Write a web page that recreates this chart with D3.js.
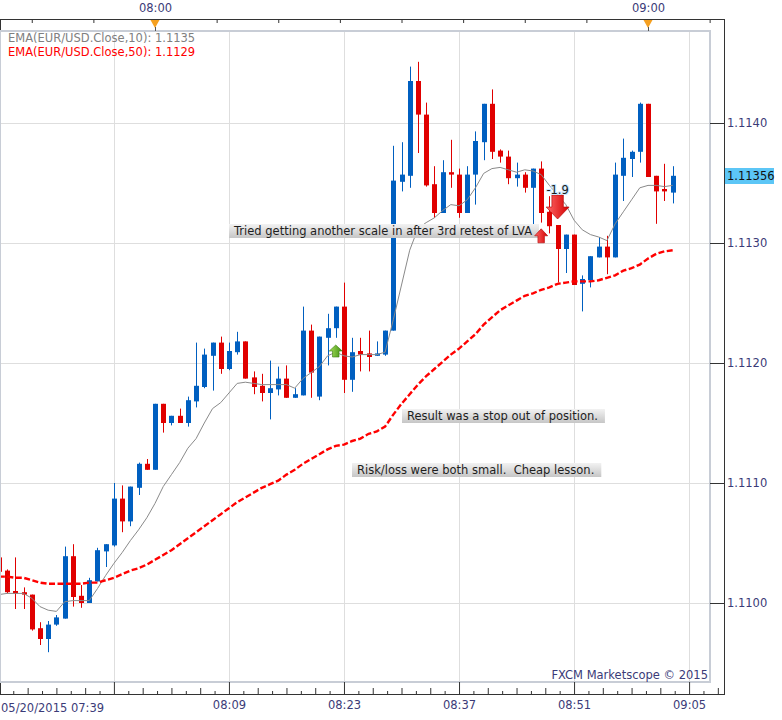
<!DOCTYPE html>
<html>
<head>
<meta charset="utf-8">
<script src="https://cdnjs.cloudflare.com/ajax/libs/d3/7.8.5/d3.min.js"></script>
<style>
    body { margin: 0; background: #fff; }
    svg text { font-family: "DejaVu Sans", sans-serif; font-size: 11.5px; white-space: pre; }
    .axis text { fill: #3b3b78; }
    .axis path, .axis line { stroke: #333; }
</style>
</head>
<body>
<div id="chart"></div>
<script>
// EUR/USD 1 minute candles, 07:41 .. 09:03
var open_ = [
    1.11038, 1.11027, 1.11010, 1.11009, 1.11007, 1.10979, 1.10970, 1.10982, 1.10987, 1.11039,
    1.11006, 1.11000, 1.11018, 1.11043, 1.11048, 1.11087, 1.11068, 1.11096, 1.11116,
    1.11111, 1.11166, 1.11150, 1.11156, 1.11150, 1.11168, 1.11180, 1.11206, 1.11217, 1.11195,
    1.11209, 1.11218, 1.11188, 1.11181, 1.11175, 1.11178, 1.11187, 1.11171, 1.11173, 1.11227,
    1.11172, 1.11221, 1.11229, 1.11247, 1.11186, 1.11210, 1.11208, 1.11206, 1.11207, 1.11227,
    1.11351, 1.11356, 1.11435, 1.11407, 1.11349, 1.11325, 1.11359, 1.11357, 1.11325, 1.11357,
    1.11384, 1.11416, 1.11377, 1.11372, 1.11354, 1.11357, 1.11346, 1.11362, 1.11326, 1.11315,
    1.11295, 1.11307, 1.11266, 1.11269, 1.11288, 1.11297, 1.11288, 1.11356, 1.11370, 1.11376,
    1.11416, 1.11356, 1.11345, 1.11342
];
var high = [
    1.11042, 1.11028, 1.11038, 1.11013, 1.11007, 1.10984, 1.10985, 1.10990, 1.11047, 1.11049,
    1.11015, 1.11021, 1.11046, 1.11049, 1.11100, 1.11098, 1.11097, 1.11117, 1.11120,
    1.11166, 1.11166, 1.11156, 1.11162, 1.11172, 1.11217, 1.11212, 1.11217, 1.11222, 1.11217,
    1.11226, 1.11218, 1.11193, 1.11191, 1.11202, 1.11197, 1.11198, 1.11179, 1.11247, 1.11232,
    1.11222, 1.11241, 1.11247, 1.11267, 1.11221, 1.11221, 1.11227, 1.11218, 1.11227, 1.11381,
    1.11384, 1.11447, 1.11451, 1.11417, 1.11364, 1.11369, 1.11386, 1.11362, 1.11364, 1.11393,
    1.11416, 1.11428, 1.11378, 1.11377, 1.11367, 1.11359, 1.11362, 1.11368, 1.11339, 1.11315,
    1.11307, 1.11307, 1.11273, 1.11289, 1.11305, 1.11306, 1.11367, 1.11387, 1.11377, 1.11417,
    1.11416, 1.11356, 1.11366, 1.11364
];
var low = [
    1.11023, 1.11008, 1.10995, 1.10995, 1.10977, 1.10965, 1.10959, 1.10981, 1.10987, 1.10997,
    1.10996, 1.11000, 1.11018, 1.11030, 1.11047, 1.11059, 1.11064, 1.11090, 1.11111,
    1.11111, 1.11142, 1.11148, 1.11150, 1.11147, 1.11163, 1.11179, 1.11177, 1.11191, 1.11194,
    1.11207, 1.11187, 1.11174, 1.11168, 1.11153, 1.11173, 1.11171, 1.11171, 1.11173, 1.11171,
    1.11169, 1.11198, 1.11221, 1.11175, 1.11176, 1.11193, 1.11193, 1.11206, 1.11206, 1.11227,
    1.11343, 1.11346, 1.11375, 1.11347, 1.11321, 1.11325, 1.11346, 1.11321, 1.11325, 1.11332,
    1.11369, 1.11370, 1.11367, 1.11349, 1.11347, 1.11342, 1.11315, 1.11317, 1.11308, 1.11267,
    1.11275, 1.11265, 1.11243, 1.11263, 1.11288, 1.11274, 1.11288, 1.11335, 1.11355, 1.11367,
    1.11355, 1.11316, 1.11335, 1.11333
];
var close = [
    1.11026, 1.11009, 1.11008, 1.11007, 1.10978, 1.10970, 1.10982, 1.10988, 1.11039, 1.11005,
    1.11000, 1.11019, 1.11044, 1.11049, 1.11087, 1.11068, 1.11097, 1.11116, 1.11111,
    1.11166, 1.11150, 1.11156, 1.11150, 1.11169, 1.11181, 1.11207, 1.11217, 1.11195, 1.11210,
    1.11218, 1.11187, 1.11180, 1.11175, 1.11179, 1.11187, 1.11171, 1.11174, 1.11227, 1.11192,
    1.11222, 1.11229, 1.11247, 1.11186, 1.11209, 1.11207, 1.11205, 1.11208, 1.11227, 1.11352,
    1.11357, 1.11435, 1.11407, 1.11348, 1.11325, 1.11359, 1.11357, 1.11325, 1.11357, 1.11385,
    1.11416, 1.11376, 1.11372, 1.11354, 1.11357, 1.11346, 1.11362, 1.11325, 1.11314, 1.11295,
    1.11307, 1.11265, 1.11270, 1.11289, 1.11297, 1.11288, 1.11357, 1.11371, 1.11376, 1.11416,
    1.11355, 1.11343, 1.11343, 1.11356
];
var ema10 = [
    1.11007, 1.11008, 1.11008, 1.11008, 1.11004, 1.10997, 1.10994, 1.10993, 1.11001, 1.11002,
    1.11002, 1.11002, 1.11012, 1.11023, 1.11033, 1.11042, 1.11052, 1.11061, 1.11071,
    1.11083, 1.11097, 1.11107, 1.11117, 1.11129, 1.11137, 1.11150, 1.11162, 1.11167, 1.11175,
    1.11183, 1.11184, 1.11183, 1.11182, 1.11182, 1.11182, 1.11182, 1.11179, 1.11187, 1.11192,
    1.11197, 1.11206, 1.11209, 1.11206, 1.11205, 1.11207, 1.11207, 1.11207, 1.11209, 1.11236,
    1.11265, 1.11294, 1.11312, 1.11317, 1.11321, 1.11327, 1.11332, 1.11331, 1.11336, 1.11346,
    1.11358, 1.11362, 1.11363, 1.11361, 1.11359, 1.11361, 1.11360, 1.11357, 1.11348, 1.11340,
    1.11332, 1.11319, 1.11311, 1.11307, 1.11305, 1.11302, 1.11316, 1.11326, 1.11336, 1.11346,
    1.11348, 1.11348, 1.11347, 1.11348
];
var ema50 = [
    1.11022, 1.11022, 1.11021, 1.11021, 1.11019, 1.11017, 1.11016, 1.11016, 1.11016, 1.11016,
    1.11016, 1.11017, 1.11017, 1.11019, 1.11021, 1.11024, 1.11027, 1.11029, 1.11032,
    1.11036, 1.11040, 1.11044, 1.11049, 1.11054, 1.11059, 1.11064, 1.11069, 1.11074, 1.11079,
    1.11084, 1.11088, 1.11092, 1.11096, 1.11099, 1.11102, 1.11107, 1.11111, 1.11116, 1.11120,
    1.11124, 1.11128, 1.11131, 1.11132, 1.11135, 1.11137, 1.11141, 1.11143, 1.11147, 1.11157,
    1.11166, 1.11174, 1.11182, 1.11189, 1.11195, 1.11201, 1.11207, 1.11212, 1.11218, 1.11224,
    1.11232, 1.11238, 1.11244, 1.11248, 1.11252, 1.11256, 1.11258, 1.11261, 1.11263, 1.11266,
    1.11267, 1.11268, 1.11268, 1.11268, 1.11269, 1.11271, 1.11273, 1.11277, 1.11279, 1.11282,
    1.11287, 1.11291, 1.11293, 1.11294
];

var priceTicks = [1.1100, 1.1110, 1.1120, 1.1130, 1.1140];
var lastPrice = 1.11356;
var bottomLabels = ["05/20/2015 07:39", "08:09", "08:23", "08:37", "08:51", "09:05"];
var topLabels = ["08:00", "09:00"];
var legendLines = ["EMA(EUR/USD.Close,10): 1.1135", "EMA(EUR/USD.Close,50): 1.1129"];
var legendColors = ["#808080", "#ff0000"];

var notes = [
    {text: "Tried getting another scale in after 3rd retest of LVA", time: "08:09", price: 1.11310},
    {text: "Result was a stop out of position.", time: "08:30", price: 1.11156},
    {text: "Risk/loss were both small.  Cheap lesson.", time: "08:24", price: 1.11111}
];
var arrows = [
    {time: "08:22", price: 1.11210, dir: "up", w: 13, h: 12, color: "green"},
    {time: "08:47", price: 1.11306, dir: "up", w: 13, h: 14, color: "red"},
    {time: "08:49", price: 1.11330, dir: "down", w: 23, h: 24, color: "red"}
];
var tradeLabel = {text: "-1.9", time: "08:49", price: 1.11341};

function at(hm) {
    var p = hm.split(":");
    return new Date(2015, 4, 20, +p[0], +p[1]);
}

var times = d3.timeMinute.range(at("07:41"), at("09:04"));
var candles = times.map(function (t, i) {
    return {t: t, o: open_[i], h: high[i], l: low[i], c: close[i]};
});

var W = 782, H = 720,
    plot = {left: 0, top: 31, right: 710, bottom: 682},
    axisRightX = 724, axisTopY = 19, axisBottomY = 694;

var x = d3.scaleTime().domain([at("08:00"), at("09:00")]).range([155, 648]);
var y = d3.scaleLinear().domain([1.1130, 1.1140]).range([243, 123]);

var svg = d3.select("#chart").append("svg")
    .attr("width", W)
    .attr("height", H);

var defs = svg.append("defs");
defs.append("clipPath").attr("id", "clip")
    .append("rect")
    .attr("x", plot.left + 1).attr("y", plot.top + 1)
    .attr("width", plot.right - plot.left - 2).attr("height", plot.bottom - plot.top - 2);

var g1 = defs.append("linearGradient").attr("id", "noteGrad")
    .attr("x1", 0).attr("y1", 0).attr("x2", 0).attr("y2", 1);
g1.append("stop").attr("offset", "0%").attr("stop-color", "#f2f2f2");
g1.append("stop").attr("offset", "100%").attr("stop-color", "#c6c6c6");

var g2 = defs.append("linearGradient").attr("id", "redGrad")
    .attr("x1", 0).attr("y1", 0).attr("x2", 1).attr("y2", 0);
g2.append("stop").attr("offset", "0%").attr("stop-color", "#ff6a6a");
g2.append("stop").attr("offset", "100%").attr("stop-color", "#d40000");

var g3 = defs.append("linearGradient").attr("id", "greenGrad")
    .attr("x1", 0).attr("y1", 0).attr("x2", 1).attr("y2", 0);
g3.append("stop").attr("offset", "0%").attr("stop-color", "#a8e05a");
g3.append("stop").attr("offset", "100%").attr("stop-color", "#3f8f12");

// outer frame
svg.append("rect")
    .attr("x", 0.5).attr("y", axisTopY + 0.5)
    .attr("width", axisRightX).attr("height", axisBottomY - axisTopY)
    .attr("fill", "none").attr("stroke", "#333");

// plot area
svg.append("rect")
    .attr("x", plot.left).attr("y", plot.top)
    .attr("width", plot.right - plot.left).attr("height", plot.bottom - plot.top)
    .attr("fill", "#fff").attr("stroke", "#c8cdd6").attr("stroke-width", 2);

// grid
var majorTimes = d3.range(6).map(function (i) { return d3.timeMinute.offset(at("07:55"), i * 14); });
var grid = svg.append("g").attr("clip-path", "url(#clip)");
grid.selectAll(".vgrid").data(majorTimes).enter().append("line")
    .attr("x1", function (d) { return Math.round(x(d)) + 0.5; })
    .attr("x2", function (d) { return Math.round(x(d)) + 0.5; })
    .attr("y1", plot.top).attr("y2", plot.bottom)
    .attr("stroke", "#dedede");
grid.selectAll(".hgrid").data(priceTicks).enter().append("line")
    .attr("x1", plot.left).attr("x2", plot.right)
    .attr("y1", function (d) { return Math.round(y(d)) + 0.5; })
    .attr("y2", function (d) { return Math.round(y(d)) + 0.5; })
    .attr("stroke", "#dedede");

// legend
svg.selectAll(".legend").data(legendLines).enter().append("text")
    .attr("x", 8)
    .attr("y", function (d, i) { return 42 + i * 13.5; })
    .attr("fill", function (d, i) { return legendColors[i]; })
    .text(function (d) { return d; });

var chart = svg.append("g").attr("clip-path", "url(#clip)");

// candles
var candle = chart.selectAll(".candle").data(candles).enter().append("g")
    .attr("class", "candle")
    .attr("fill", function (d) { return d.c >= d.o ? "#005fc0" : "#e00000"; });
candle.append("rect")
    .attr("x", function (d) { return Math.round(x(d.t)); })
    .attr("width", 1)
    .attr("y", function (d) { return y(d.h); })
    .attr("height", function (d) { return y(d.l) - y(d.h); });
candle.append("rect")
    .attr("x", function (d) { return Math.round(x(d.t)) - 2; })
    .attr("width", 5)
    .attr("y", function (d) { return y(Math.max(d.o, d.c)); })
    .attr("height", function (d) { return Math.max(2, Math.abs(y(d.o) - y(d.c))); });

// EMA lines
var line = d3.line()
    .x(function (d, i) { return x(times[i]); })
    .y(function (d) { return y(d); });

chart.append("path")
    .attr("d", line(ema10))
    .attr("fill", "none")
    .attr("stroke", "#8a8a8a")
    .attr("stroke-width", 1);

chart.append("path")
    .attr("d", line(ema50))
    .attr("fill", "none")
    .attr("stroke", "#ff0000")
    .attr("stroke-width", 2.4)
    .attr("stroke-dasharray", "6,2.5");

// notes
notes.forEach(function (n) {
    var gx = Math.round(x(at(n.time))), gy = Math.round(y(n.price));
    var ng = svg.append("g").attr("transform", "translate(" + gx + "," + gy + ")");
    var bg = ng.append("rect").attr("y", -7).attr("height", 14).attr("fill", "url(#noteGrad)");
    var t = ng.append("text").attr("x", 5).attr("y", 4).attr("fill", "#1e1e1e").text(n.text);
    bg.attr("width", t.node().getComputedTextLength() + 12);
});

// trade arrows
function arrowPath(w, h, dir) {
    var s = dir === "up" ? -1 : 1,
        hw = w / 2, sw = w / 4, hh = h / 2;
    return "M" + (-sw) + "," + (-s * hh) + "L" + sw + "," + (-s * hh) +
        "L" + sw + "," + 0 + "L" + hw + "," + 0 + "L0," + (s * hh) +
        "L" + (-hw) + "," + 0 + "L" + (-sw) + "," + 0 + "Z";
}
svg.selectAll(".arrow").data(arrows).enter().append("path")
    .attr("transform", function (d) { return "translate(" + x(at(d.time)) + "," + y(d.price) + ")"; })
    .attr("d", function (d) { return arrowPath(d.w, d.h, d.dir); })
    .attr("fill", function (d) { return d.color === "green" ? "url(#greenGrad)" : "url(#redGrad)"; })
    .attr("stroke", function (d) { return d.color === "green" ? "#3a7a10" : "#b00000"; })
    .attr("stroke-width", 0.6);

svg.append("text")
    .attr("x", x(at(tradeLabel.time)))
    .attr("y", y(tradeLabel.price))
    .attr("text-anchor", "middle")
    .attr("fill", "#1a1a1a")
    .attr("stroke", "#cdeaff").attr("stroke-width", 2).attr("paint-order", "stroke")
    .text(tradeLabel.text);

// watermark
svg.append("text")
    .attr("x", 708).attr("y", 679)
    .attr("text-anchor", "end")
    .attr("fill", "#3b3b78")
    .text("FXCM Marketscope \u00a9 2015");

// right axis
var minorPrices = d3.range(10950, 11460).filter(function (v) { return v % 10 === 0; })
    .map(function (v) { return v / 10000; });
svg.append("g").attr("class", "axis")
    .attr("transform", "translate(" + axisRightX + ",0)")
    .call(d3.axisLeft(y).tickValues(minorPrices.filter(function (p) { return y(p) > axisTopY && y(p) < axisBottomY; }))
        .tickSize(6).tickFormat(""))
    .call(function (g) { g.select(".domain").remove(); });
svg.append("g").attr("class", "axis")
    .attr("transform", "translate(" + axisRightX + ",0)")
    .call(d3.axisLeft(y).tickValues(priceTicks).tickSize(14).tickFormat(""))
    .call(function (g) { g.select(".domain").remove(); });
svg.append("g").attr("class", "axis")
    .attr("transform", "translate(" + (axisRightX + 2) + ",0)")
    .call(d3.axisRight(y).tickValues(priceTicks).tickSize(0).tickPadding(1).tickFormat(d3.format(".4f")))
    .call(function (g) { g.select(".domain").remove(); });

// last price tag
var tag = svg.append("g").attr("transform", "translate(725," + Math.round(y(lastPrice)) + ")");
tag.append("rect").attr("x", 0).attr("y", -8).attr("width", 49).attr("height", 16).attr("fill", "#5cc6f6");
tag.append("text").attr("x", 2).attr("y", 4).attr("fill", "#111").text(d3.format(".5f")(lastPrice));

// bottom axis
var tickStep = 105 * 1000;
var timeTicks = d3.range(0, 51).map(function (i) { return new Date(at("07:41").getTime() + i * tickStep); });
function tickSet(filter) {
    return timeTicks.filter(function (d, i) { return filter(i) && x(d) > 1 && x(d) < axisRightX; });
}
svg.append("g").attr("class", "axis")
    .attr("transform", "translate(0," + axisBottomY + ")")
    .call(d3.axisTop(x).tickValues(tickSet(function (i) { return i % 2 === 1; })).tickSize(3).tickFormat(""))
    .call(function (g) { g.select(".domain").remove(); });
svg.append("g").attr("class", "axis")
    .attr("transform", "translate(0," + axisBottomY + ")")
    .call(d3.axisTop(x).tickValues(tickSet(function (i) { return i % 2 === 0 && i % 8 !== 0; })).tickSize(6).tickFormat(""))
    .call(function (g) { g.select(".domain").remove(); });
svg.append("g").attr("class", "axis")
    .attr("transform", "translate(0," + axisBottomY + ")")
    .call(d3.axisTop(x).tickValues(majorTimes).tickSize(12).tickFormat(""))
    .call(function (g) { g.select(".domain").remove(); });
svg.append("g").attr("class", "axis")
    .attr("transform", "translate(0," + axisBottomY + ")")
    .call(d3.axisBottom(x).tickValues(majorTimes).tickSize(0).tickPadding(7)
        .tickFormat(function (d, i) { return i === 0 ? "" : bottomLabels[i]; }))
    .call(function (g) { g.select(".domain").remove(); });
svg.append("text").attr("class", "axis")
    .attr("x", 1).attr("y", 712)
    .attr("fill", "#3b3b78")
    .text(bottomLabels[0]);

// top axis
var topTicks = d3.range(-3, 10).map(function (i) { return new Date(at("08:00").getTime() + i * 450 * 1000); })
    .filter(function (d) { return x(d) > 1 && x(d) < axisRightX; });
svg.append("g").attr("class", "axis")
    .attr("transform", "translate(0," + axisTopY + ")")
    .call(d3.axisBottom(x).tickValues(topTicks).tickSize(4).tickFormat(""))
    .call(function (g) { g.select(".domain").remove(); });
var topMarks = topLabels.map(at);
svg.append("g").attr("class", "axis")
    .attr("transform", "translate(0," + axisTopY + ")")
    .call(d3.axisTop(x).tickValues(topMarks).tickSize(0).tickPadding(7).tickFormat(d3.timeFormat("%H:%M")))
    .call(function (g) { g.select(".domain").remove(); });
svg.selectAll(".topmark").data(topMarks).enter().append("path")
    .attr("transform", function (d) { return "translate(" + Math.round(x(d)) + "," + (axisTopY + 1) + ")"; })
    .attr("d", "M-4.5,0L4.5,0L0,8Z")
    .attr("fill", "#f5a020");
svg.selectAll(".topmarkline").data(topMarks).enter().append("line")
    .attr("x1", function (d) { return Math.round(x(d)) + 0.5; })
    .attr("x2", function (d) { return Math.round(x(d)) + 0.5; })
    .attr("y1", axisTopY + 8).attr("y2", plot.top)
    .attr("stroke", "#555");
</script>
</body>
</html>
